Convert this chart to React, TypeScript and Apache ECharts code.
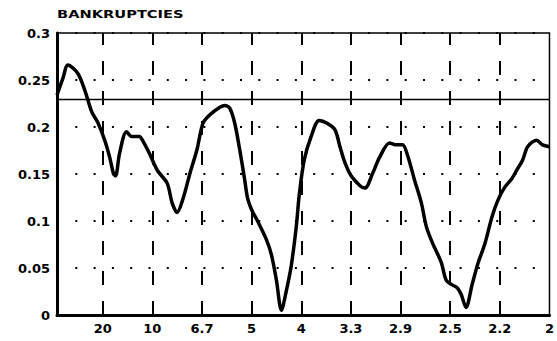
import React, { useEffect, useRef } from "react";
import * as echarts from "echarts";

const title = "BANKRUPTCIES";

const freq = [
  0.004, 0.010, 0.015, 0.025, 0.032, 0.039, 0.045, 0.052, 0.057, 0.061,
  0.063, 0.067, 0.074, 0.079, 0.087, 0.090, 0.097, 0.105, 0.115, 0.120,
  0.125, 0.131, 0.138, 0.145, 0.151, 0.158, 0.168, 0.173, 0.178, 0.183,
  0.188, 0.193, 0.196, 0.200, 0.206, 0.215, 0.220, 0.225, 0.230, 0.235,
  0.240, 0.245, 0.248, 0.253, 0.260, 0.268, 0.276, 0.284, 0.289, 0.294,
  0.301, 0.314, 0.322, 0.329, 0.339, 0.346, 0.352, 0.357, 0.364, 0.371,
  0.376, 0.382, 0.391, 0.396, 0.402, 0.407, 0.411, 0.416, 0.422, 0.428,
  0.435, 0.442, 0.448, 0.455, 0.462, 0.467, 0.473, 0.478, 0.487, 0.493,
  0.500,
];

const power = [
  0.234, 0.252, 0.266, 0.257, 0.239, 0.216, 0.205, 0.186, 0.168, 0.150,
  0.148, 0.172, 0.195, 0.190, 0.190, 0.186, 0.172, 0.154, 0.140, 0.119,
  0.109, 0.124, 0.151, 0.176, 0.204, 0.213, 0.221, 0.223, 0.220, 0.204,
  0.176, 0.144, 0.124, 0.112, 0.100, 0.080, 0.064, 0.037, 0.005, 0.026,
  0.053, 0.094, 0.128, 0.165, 0.190, 0.207, 0.204, 0.197, 0.179, 0.162,
  0.147, 0.135, 0.151, 0.168, 0.183, 0.181, 0.181, 0.170, 0.144, 0.119,
  0.094, 0.077, 0.056, 0.037, 0.032, 0.029, 0.022, 0.008, 0.032, 0.055,
  0.076, 0.104, 0.122, 0.136, 0.145, 0.154, 0.165, 0.179, 0.186, 0.181,
  0.179,
];

const tickFreq = [0.05, 0.1, 0.15, 0.2, 0.25, 0.3, 0.35, 0.4, 0.45, 0.5];
const periodLabels = ["20", "10", "6.7", "5", "4", "3.3", "2.9", "2.5", "2.2", "2"];
const meanLevel = 0.235;

export default function App() {
  const ref = useRef<HTMLDivElement>(null);
  useEffect(() => {
    const chart = echarts.init(ref.current!, null, { renderer: "svg" });
    const labelFont = {
      color: "#000",
      fontFamily: "DejaVu Sans",
      fontWeight: "bold",
      fontSize: 13,
    };
    chart.setOption({
      animation: false,
      backgroundColor: "#fff",
      grid: {
        left: 57,
        right: 6,
        top: 33,
        bottom: 26,
        show: true,
        borderColor: "#000",
        borderWidth: 1.5,
        backgroundColor: "transparent",
      },
      graphic: [
        {
          type: "text",
          x: 57,
          y: 9,
          scaleX: 1.33,
          style: {
            text: title,
            fontFamily: "DejaVu Sans",
            fontWeight: "bold",
            fontSize: 11,
            fill: "#000",
            verticalAlign: "top",
          },
        },
      ],
      xAxis: {
        type: "value",
        min: 0.004,
        max: 0.5,
        axisLine: { show: true, onZero: false, lineStyle: { color: "#000", width: 3 } },
        axisTick: { show: false },
        splitLine: { show: false },
        axisLabel: {
          ...labelFont,
          margin: 7,
          customValues: tickFreq,
          showMaxLabel: true,
          hideOverlap: false,
          formatter: (v: number) => {
            const i = tickFreq.findIndex((t) => Math.abs(t - v) < 1e-6);
            return i >= 0 ? periodLabels[i] : "";
          },
        },
      },
      yAxis: {
        type: "value",
        min: 0,
        max: 0.3,
        interval: 0.05,
        axisLine: { show: true, lineStyle: { color: "#000", width: 3 } },
        axisTick: { show: false },
        splitLine: { show: true, lineStyle: { color: "#000", width: 2, type: [2, 16.3] } },
        axisLabel: {
          ...labelFont,
          margin: 7,
          formatter: (v: number) => String(+v.toFixed(2)),
        },
      },
      series: [
        {
          type: "line",
          data: freq.map((f, i) => [f, power[i]]),
          showSymbol: false,
          smooth: 0.3,
          lineStyle: { color: "#000", width: 3.5 },
          markLine: {
            silent: true,
            symbol: "none",
            label: { show: false },
            data: [
              ...tickFreq.slice(0, -1).map((f) => ({
                xAxis: f,
                lineStyle: { type: [14, 16], width: 2, color: "#000" },
              })),
              { yAxis: meanLevel, lineStyle: { type: "solid", width: 1.3, color: "#000" } },
            ],
          },
        },
      ],
    });
    return () => chart.dispose();
  }, []);
  return (
    <div
      ref={ref}
      style={{ position: "fixed", left: 0, top: 0, width: 557, height: 341, background: "#fff" }}
    />
  );
}
